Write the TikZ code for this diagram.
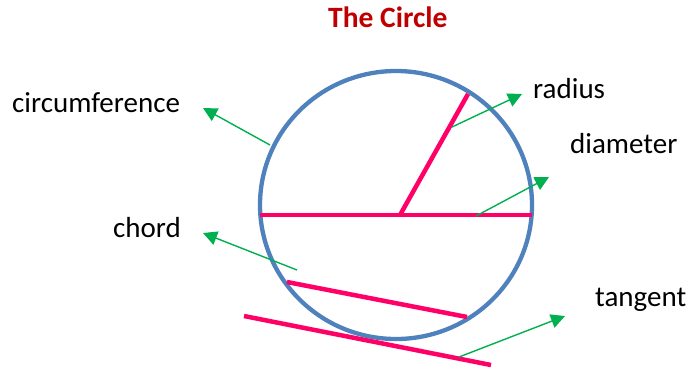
\documentclass[tikz,border=0pt]{standalone}
\usepackage{fontspec}
\setmainfont{Carlito}
\usepackage{xcolor}
\usepackage{tikz}
\usetikzlibrary{arrows.meta,positioning,calc}
\definecolor{RimBlue}{HTML}{4F81BD}
\definecolor{LinePink}{HTML}{FF0066}
\definecolor{PointerGreen}{HTML}{00B050}
\definecolor{TitleRed}{HTML}{C00000}

\begin{document}
\begin{tikzpicture}[x=1pt,y=-1pt,
  lbl/.style={font=\fontsize{29}{32}\selectfont,inner sep=0pt,anchor=base west},
  seg/.style={LinePink,line width=4.5pt},
  pointer/.style={PointerGreen,line width=1.4pt,-{Triangle[length=14pt,width=14pt]}}]
  \useasboundingbox (0,0) rectangle (690,368);
  % the circle and its parts
  \draw[RimBlue,line width=4.3pt] (396,205) ellipse [x radius=136,y radius=134];
  \coordinate (dl) at (260,215);
  \coordinate (dr) at (532,215);
  \coordinate (ctr) at (400,215);
  \coordinate (rt) at (468,94);
  \coordinate (cl) at (287,282);
  \coordinate (cr) at (467,317);
  \coordinate (tl) at (244,316);
  \coordinate (tr) at (491,365);
  \draw[seg] (dl) -- (dr);
  \draw[seg] (ctr) -- (rt);
  \draw[seg] (cl) -- (cr);
  \draw[seg] (tl) -- (tr);
  % labels
  \node[lbl,font=\fontsize{29.5}{32}\selectfont\bfseries,text=TitleRed] (title) at (328,27) {The Circle};
  \node[lbl] (circ) at (12,112) {circumference};
  \node[lbl] (rad) at (533,98) {radius};
  \node[lbl] (diam) at (570,153) {diameter};
  \node[lbl] (chd) at (113,237) {chord};
  \node[lbl] (tan) at (595,306) {tangent};
  % pointers
  \coordinate (p1) at (270,145); \coordinate (h1) at (203,108);
  \coordinate (p2) at (452,127); \coordinate (h2) at (522,94);
  \coordinate (p3) at (476,216); \coordinate (h3) at (549,177);
  \coordinate (p4) at (297,270); \coordinate (h4) at (203,233);
  \coordinate (p5) at (459,357); \coordinate (h5) at (565,316);
  \draw[pointer] (p1) -- (h1);
  \draw[pointer] (p2) -- (h2);
  \draw[pointer] (p3) -- (h3);
  \draw[pointer] (p4) -- (h4);
  \draw[pointer] (p5) -- (h5);
\end{tikzpicture}
\end{document}
